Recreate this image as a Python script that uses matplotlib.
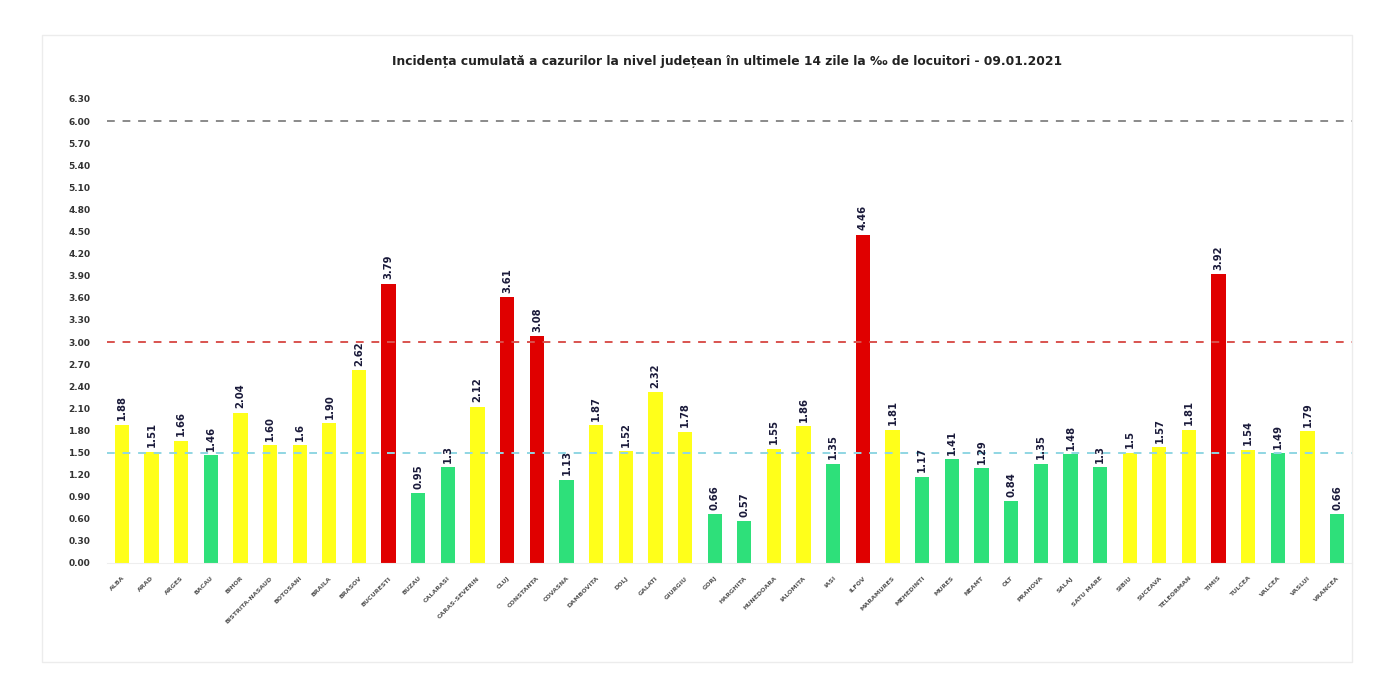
import matplotlib
matplotlib.use("Agg")
import matplotlib.pyplot as plt
from matplotlib.patches import Rectangle
import numpy as np

title = "Incidența cumulată a cazurilor la nivel județean în ultimele 14 zile la ‰ de locuitori - 09.01.2021"

counties = ["ALBA", "ARAD", "ARGES", "BACAU", "BIHOR", "BISTRITA-NASAUD", "BOTOSANI",
            "BRAILA", "BRASOV", "BUCURESTI", "BUZAU", "CALARASI", "CARAS-SEVERIN",
            "CLUJ", "CONSTANTA", "COVASNA", "DAMBOVITA", "DOLJ", "GALATI", "GIURGIU",
            "GORJ", "HARGHITA", "HUNEDOARA", "IALOMITA", "IASI", "ILFOV", "MARAMURES",
            "MEHEDINTI", "MURES", "NEAMT", "OLT", "PRAHOVA", "SALAJ", "SATU MARE",
            "SIBIU", "SUCEAVA", "TELEORMAN", "TIMIS", "TULCEA", "VALCEA", "VASLUI",
            "VRANCEA"]

values = [1.88, 1.51, 1.66, 1.46, 2.04, 1.60, 1.6, 1.90, 2.62, 3.79,
          0.95, 1.3, 2.12, 3.61, 3.08, 1.13, 1.87, 1.52, 2.32, 1.78,
          0.66, 0.57, 1.55, 1.86, 1.35, 4.46, 1.81, 1.17, 1.41, 1.29,
          0.84, 1.35, 1.48, 1.3, 1.5, 1.57, 1.81, 3.92, 1.54, 1.49,
          1.79, 0.66]

value_labels = ["1.88", "1.51", "1.66", "1.46", "2.04", "1.60", "1.6", "1.90", "2.62", "3.79",
                "0.95", "1.3", "2.12", "3.61", "3.08", "1.13", "1.87", "1.52", "2.32", "1.78",
                "0.66", "0.57", "1.55", "1.86", "1.35", "4.46", "1.81", "1.17", "1.41", "1.29",
                "0.84", "1.35", "1.48", "1.3", "1.5", "1.57", "1.81", "3.92", "1.54", "1.49",
                "1.79", "0.66"]

thresholds = [1.5, 3.0, 6.0]
threshold_colors = ["#8fd6e3", "#d9534f", "#8a8a8a"]
yticks = [0.0, 0.3, 0.6, 0.9, 1.2, 1.5, 1.8, 2.1, 2.4, 2.7, 3.0, 3.3, 3.6, 3.9,
          4.2, 4.5, 4.8, 5.1, 5.4, 5.7, 6.0, 6.3]

GREEN = "#2ee07a"
YELLOW = "#ffff1a"
RED = "#e00000"

def color_for(v):
    if v < 1.5:
        return GREEN
    if v <= 3.0:
        return YELLOW
    return RED

fig = plt.figure(figsize=(14, 7), dpi=100)
fig.patch.set_facecolor("white")
# faint frame around the chart
fig.add_artist(Rectangle((42/1400, 1 - 662/700), (1352-42)/1400, (662-35)/700,
                         transform=fig.transFigure, fill=False,
                         edgecolor="#ececec", linewidth=1.0))

ax = fig.add_axes([107/1400, 1 - 563/700, (1352-107)/1400, (563-99)/700])
x = np.arange(len(counties))
colors = [color_for(v) for v in values]
ax.bar(x, values, width=0.48, color=colors, zorder=2)

for t, c in zip(thresholds, threshold_colors):
    ax.axhline(t, color=c, linestyle=(0, (4, 4)), linewidth=1.4, zorder=3)

for xi, v, lab in zip(x, values, value_labels):
    ax.text(xi, v + 0.06, lab, rotation=90, ha="center", va="bottom",
            fontsize=7.2, fontweight="bold", color="#1a1a3a", zorder=4)

ax.set_xlim(-0.5, len(counties) - 0.5)
ax.set_ylim(0, 6.3)
ax.set_yticks(yticks)
ax.set_yticklabels([f"{t:.2f}" for t in yticks], fontsize=6.5, fontweight="bold", color="#333333")
ax.set_xticks(x)
ax.set_xticklabels(counties, rotation=45, ha="right", rotation_mode="anchor",
                   fontsize=4.5, fontweight="bold", color="#555555")
ax.tick_params(axis="y", length=0, pad=12)
ax.tick_params(axis="x", length=0, pad=9)
for s in ["top", "right", "left"]:
    ax.spines[s].set_visible(False)
ax.spines["bottom"].set_color("#eeeeee")

fig.text(727/1400, 1 - 62/700, title, ha="center", va="center",
         fontsize=8.8, fontweight="bold", color="#222222")

fig.savefig("out.png", dpi=100, facecolor="white")
